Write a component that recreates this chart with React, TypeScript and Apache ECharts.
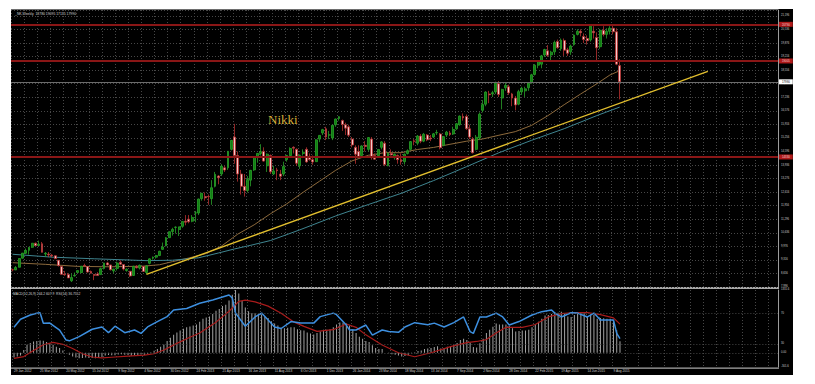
import React, { useEffect, useRef } from "react";
import * as echarts from "echarts";

// ---------- data (weekly, first bar = week of 29 Jan 2012) ----------
const SLOTS = 235;
const OPEN = [
  8841, 8830, 8960, 9400, 9640, 9780, 9930, 10130, 10020, 10100,
  9600, 9600, 9550, 9520, 9300, 9000, 8620, 8600, 8300, 8540,
  8700, 8700, 9040, 8990, 8750, 8600, 8630, 8600, 8900, 9170,
  9070, 8780, 8900, 9200, 9090, 8800, 8760, 8560, 9000, 8920,
  9000, 8700, 9150, 9400, 9450, 9530, 9830, 10000, 10400, 10700,
  10900, 10800, 10950, 11200, 11300, 11200, 11600, 11600, 12300, 12400,
  12400, 12300, 12900, 13400, 13500, 13800, 13800, 14700, 15300, 14400,
  13500, 12900, 12700, 13200, 13700, 14300, 14500, 14600, 13900, 14400,
  13500, 13700, 13500, 13500, 14200, 14400, 14800, 14700, 13900, 14500,
  14700, 14300, 14200, 14100, 15200, 15500, 15700, 15400, 15250, 15900,
  16200, 16100, 15900, 15800, 15200, 14800, 14600, 14400, 14900, 14700,
  15200, 14400, 14400, 14800, 15000, 13900, 14500, 14300, 14400, 14200,
  14100, 14500, 14700, 15100, 15000, 15350, 15100, 15400, 15250, 15300,
  15500, 15450, 14900, 15400, 15500, 15450, 15700, 15900, 16300, 16300,
  15700, 15200, 14700, 15250, 16600, 16900, 17400, 17400, 17500, 17900,
  17200, 17700, 17750, 17400, 17200, 16900, 17500, 17550, 17700, 17950,
  18350, 18800, 18850, 19300, 19500, 19300, 19450, 19950, 19600, 20000,
  19550, 19450, 19800, 20300, 20450, 20200, 20100, 20030, 20450, 20150,
  19700, 20500, 20300, 20450, 20600, 20430, 18780,
];
const HIGH = [
  8880, 9020, 9400, 9650, 9870, 9940, 10140, 10160, 10255, 10190,
  9700, 9700, 9600, 9530, 9300, 9000, 8780, 8680, 8650, 8700,
  8800, 9010, 9130, 9000, 8800, 8620, 8720, 8940, 9180, 9222,
  9080, 8880, 9230, 9290, 9100, 8900, 8780, 9030, 9060, 9090,
  9020, 9060, 9390, 9480, 9560, 9760, 10160, 10430, 10700, 10880,
  10950, 10930, 11200, 11500, 11500, 11500, 11700, 12300, 12580, 12600,
  12500, 13200, 13600, 13450, 13980, 13900, 14620, 15160, 15942, 14600,
  13700, 13500, 13400, 13700, 14340, 14520, 14950, 14800, 14500, 14450,
  13900, 13800, 13700, 14100, 14430, 14800, 14850, 14750, 14450, 14700,
  14800, 14500, 14400, 15200, 15400, 15700, 15800, 15600, 15900, 16200,
  16320, 16150, 16000, 15900, 15300, 14900, 14900, 14900, 15100, 15300,
  15300, 14500, 14700, 15100, 15100, 14550, 14700, 14500, 14450, 14500,
  14500, 14700, 15100, 15200, 15400, 15450, 15500, 15450, 15400, 15500,
  15650, 15500, 15350, 15600, 15600, 15800, 15980, 16350, 16450, 16400,
  15900, 15300, 15400, 16500, 17100, 17530, 17550, 17550, 18000, 18030,
  17650, 17950, 17850, 17450, 17300, 17600, 17750, 17750, 17980, 18380,
  18850, 19050, 19300, 19600, 19780, 19500, 20000, 20050, 20100, 20100,
  19650, 19800, 20300, 20550, 20550, 20350, 20250, 20780, 20700, 20400,
  20550, 20700, 20600, 20700, 20750, 20600, 19095,
];
const LOW = [
  8760, 8820, 8950, 9380, 9600, 9580, 9900, 9990, 10000, 9680,
  9460, 9450, 9440, 9350, 8990, 8600, 8540, 8430, 8238, 8500,
  8690, 8660, 9000, 8700, 8650, 8330, 8550, 8590, 8850, 9050,
  8800, 8660, 8800, 9060, 8800, 8740, 8490, 8540, 8900, 8850,
  8750, 8619, 9100, 9330, 9380, 9500, 9800, 9980, 10390, 10500,
  10600, 10480, 10880, 11000, 11100, 11150, 11150, 11500, 12200, 12200,
  12000, 12000, 12850, 13000, 13400, 13600, 13700, 14650, 14000, 13130,
  12500, 12400, 12600, 12900, 13650, 14050, 14400, 14100, 13600, 13500,
  13450, 13200, 13200, 13400, 14100, 14300, 14500, 13900, 13750, 14400,
  14050, 14150, 13950, 14100, 15050, 15400, 15150, 15200, 15150, 15800,
  16100, 15600, 15400, 15300, 14800, 13995, 14300, 14300, 14600, 14600,
  14200, 14200, 14300, 14700, 13880, 13880, 14400, 14200, 14000, 13950,
  13960, 14450, 14650, 14900, 14900, 15000, 15050, 15100, 15100, 15250,
  15400, 14700, 14850, 15300, 15350, 15400, 15650, 15850, 16100, 15650,
  15200, 14500, 14650, 15150, 16500, 16800, 16950, 17250, 17400, 17250,
  16650, 17550, 17350, 16800, 16600, 16850, 17350, 17250, 17550, 17900,
  18300, 18650, 18650, 19200, 19200, 19000, 19300, 19600, 19500, 19250,
  19250, 19300, 19750, 20250, 20200, 19880, 19800, 19950, 20100, 18970,
  19600, 20200, 20100, 20300, 20300, 18800, 17135,
];
const CLOSE = [
  8831, 8947, 9384, 9647, 9777, 9929, 10129, 10011, 10083, 9688,
  9637, 9561, 9520, 9380, 9046, 8611, 8593, 8440, 8459, 8569,
  8798, 9006, 9020, 8724, 8669, 8566, 8555, 8891, 9162, 9070,
  8839, 8871, 9159, 9110, 8870, 8863, 8534, 9002, 8933, 9051,
  8757, 9024, 9366, 9446, 9527, 9737, 9940, 10395, 10688, 10801,
  10913, 10926, 11191, 11153, 11173, 11386, 11606, 12283, 12560, 12338,
  12397, 12833, 13485, 13316, 13884, 13694, 14607, 15138, 14400, 13500,
  12900, 12700, 13230, 13677, 14309, 14506, 14589, 14129, 14466, 13605,
  13650, 13660, 13389, 13860, 14404, 14742, 14760, 14024, 14404, 14561,
  14088, 14201, 14086, 15165, 15381, 15661, 15299, 15403, 15870, 16178,
  16291, 15912, 15734, 15391, 14914, 14462, 14313, 14865, 14841, 15274,
  14327, 14224, 14696, 15063, 13960, 14516, 14429, 14457, 14199, 14097,
  14462, 14632, 15077, 15097, 15349, 15095, 15437, 15164, 15215, 15457,
  15523, 14778, 15318, 15539, 15424, 15668, 15948, 16321, 16229, 15708,
  15300, 14532, 15291, 16413, 16880, 17490, 17357, 17460, 17920, 17371,
  17621, 17818, 17451, 17197, 16864, 17511, 17674, 17648, 17913, 18332,
  18798, 18971, 19254, 19560, 19285, 19435, 19908, 19653, 20020, 19532,
  19379, 19732, 20264, 20450, 20380, 20050, 19990, 20700, 20380, 19650,
  20500, 20300, 20450, 20600, 20430, 18850, 17990,
];
// moving averages: [bar index, value]
const MA50 = [
  [0, 9180], [10, 9100], [20, 9000], [30, 8980], [40, 9010], [45, 9080], [49, 9232],
  [54, 9408], [59, 9614], [64, 9990], [69, 10573], [74, 11024], [79, 11565], [84, 12047],
  [89, 12610], [94, 13146], [99, 13683], [104, 14140], [109, 14412], [114, 14539],
  [119, 14537], [124, 14693], [129, 14795], [134, 14947], [139, 15095], [144, 15205],
  [149, 15388], [154, 15563], [159, 15869], [164, 16341], [169, 16878], [174, 17394],
  [179, 17895], [183, 18322], [186, 18532],
];
const MA100 = [
  [0, 9590], [12, 9450], [25, 9370], [41, 9280], [49, 9300], [57, 9420], [63, 9650],
  [68, 9850], [73, 10030], [79, 10260], [88, 10780], [99, 11457], [109, 12013],
  [119, 12555], [129, 13180], [139, 13852], [149, 14536], [159, 15141], [169, 15707],
  [179, 16345], [186, 16761],
];
const TREND = [[41, 8610], [213, 18500]];
const RED_LEVELS = [20790, 19005, 14330];
const BID = 17990;
// MACD(12,26,9) histogram, one value per week
const MACD = [
  -100, -80, -60, 60, 170, 210, 240, 250, 260, 255,
  230, 200, 170, 130, 100, 50, 0, -40, -80, -100,
  -115, -110, -100, -110, -110, -115, -110, -90, -60, -45,
  -50, -50, -35, -30, -40, -45, -65, -50, -45, -35,
  -45, -30, 10, 45, 80, 130, 175, 250, 320, 380,
  430, 470, 510, 540, 560, 580, 600, 660, 720, 750,
  770, 820, 890, 930, 990, 1020, 1110, 1230, 1331.6, 1260,
  1100, 960, 880, 840, 840, 830, 810, 770, 740, 670,
  620, 580, 530, 520, 530, 540, 540, 500, 480, 470,
  430, 410, 390, 420, 450, 490, 490, 500, 540, 600,
  640, 640, 620, 580, 500, 420, 340, 300, 250, 230,
  160, 100, 80, 80, 0, -10, -30, -40, -60, -80,
  -70, -50, -10, 10, 40, 50, 80, 90, 100, 120,
  140, 90, 100, 130, 140, 170, 210, 270, 300, 270,
  220, 120, 110, 200, 300, 420, 490, 550, 620, 600,
  600, 600, 570, 520, 450, 460, 470, 470, 490, 540,
  610, 660, 720, 790, 800, 820, 860, 850, 870, 820,
  770, 760, 800, 840, 850, 840, 780, 810, 800, 720,
  740, 730, 720, 720, 690, 480, 244.2,
];
const SIGNAL = [
  [0, -120], [3, -80], [6, 50], [9, 170], [12, 220], [15, 180], [18, 90], [21, -20],
  [24, -90], [27, -110], [30, -95], [35, -70], [40, -50], [43, -20], [46, 60],
  [50, 200], [54, 330], [57, 420], [62, 650], [66, 880], [69, 1090], [71, 1117],
  [74, 1080], [78, 990], [82, 840], [86, 650], [89, 560], [93, 455], [98, 490],
  [102, 610], [105, 540], [108, 380], [113, 165], [118, 0], [123, -85], [128, 0],
  [134, 130], [139, 215], [142, 240], [145, 280], [148, 420], [151, 540], [156, 540],
  [160, 600], [164, 760], [168, 830], [172, 850], [176, 850], [180, 810], [184, 740],
  [186, 607.9],
];
const RSI = [
  [0, 51.5], [2, 62], [5, 67.5], [7, 69.7], [8, 70.5], [9, 56.7], [11, 57], [14, 48],
  [16, 35], [17, 34], [20, 39.4], [24, 49], [27, 52], [29, 44.6], [31, 53], [34, 44.6],
  [37, 48], [39, 43.7], [41, 52], [44, 58.9], [47, 65.4], [49, 74], [53, 76], [57, 82.7],
  [61, 87], [66, 93.5], [67, 89.6], [68, 70], [71, 53], [74, 65], [76, 70], [78, 61],
  [80, 52], [82, 50], [85, 59], [88, 57], [92, 57], [94, 65.4], [98, 70], [99, 68],
  [102, 54.5], [103, 48], [105, 48], [108, 54.5], [110, 41.5], [113, 48], [115, 46],
  [118, 45], [120, 52], [123, 57.6], [127, 55], [129, 57], [132, 52], [135, 57.6],
  [138, 65], [140, 45.9], [141, 43.7], [143, 65], [145, 65], [148, 70], [150, 65],
  [152, 54.5], [155, 59], [159, 67.5], [162, 71.9], [165, 74], [166, 70], [168, 65],
  [171, 70.5], [173, 70], [176, 65], [178, 70], [180, 61], [182, 61], [184, 61],
  [185, 43.7], [186, 36.76],
];
const TITLE = "_NK,Weekly  18780 19095 17135 17990";
const SUBTITLE = "MACD(12,26,9) 244.2 607.9  RSI(14) 36.7552";
const MONTHS = ["Jan", "Feb", "Mar", "Apr", "May", "Jun", "Jul", "Aug", "Sep", "Oct", "Nov", "Dec"];

const LAST = CLOSE.length - 1;
const CATS: string[] = [];
for (let i = 0; i < SLOTS; i++) {
  const d = new Date(Date.UTC(2012, 0, 29) + i * 7 * 86400000);
  CATS.push(`${d.getUTCDate()} ${MONTHS[d.getUTCMonth()]} ${d.getUTCFullYear()}`);
}

const GRIDC = "#474747";
const TXT = "#cfcfcf";
const FONT = "Liberation Sans, Arial, sans-serif";

function buildOption(): any {
  const candles = OPEN.map((o, i) => [o, CLOSE[i], LOW[i], HIGH[i]]);
  const redLine = (v: number) => ({
    yAxis: v,
    lineStyle: { color: "#8a1616", width: 2, type: "solid" },
    label: {
      show: true, position: "end", formatter: String(v), color: "#f0d0d0",
      backgroundColor: "#b01a1a", fontSize: 2.8, padding: [1, 3], distance: 1, fontFamily: FONT,
    },
  });
  const xCommon = {
    type: "category", data: CATS, boundaryGap: true,
    axisLine: { show: false }, axisTick: { show: false },
    splitLine: { show: true, interval: 3, lineStyle: { color: GRIDC, type: [1, 2], width: 1 } },
  };
  return {
    animation: false,
    backgroundColor: "#000000",
    grid: [
      { left: 0, top: 1, width: 767, height: 277 },
      { left: 0, top: 281, width: 767, height: 77 },
    ],
    xAxis: [
      { ...xCommon, gridIndex: 0, axisLabel: { show: false } },
      {
        ...xCommon, gridIndex: 1,
        axisLabel: {
          show: true, interval: 7, align: "left", margin: 2, color: TXT, fontSize: 3.2, fontFamily: FONT,
          formatter: (v: string, i: number) => (i <= LAST ? v : ""),
        },
      },
    ],
    yAxis: [
      {
        gridIndex: 0, type: "value", position: "right", min: 7996, max: 21488, interval: 660,
        axisLine: { show: true, lineStyle: { color: "#9c9c9c", width: 1 } },
        axisTick: { show: false },
        axisLabel: { color: TXT, fontSize: 2.7, margin: 3, showMaxLabel: false, fontFamily: FONT },
        splitLine: { show: true, lineStyle: { color: GRIDC, type: [1, 2], width: 1 } },
      },
      {
        gridIndex: 1, type: "value", position: "right", min: -301.6, max: 1331.6, interval: 1633.2,
        axisLine: { show: true, lineStyle: { color: "#9c9c9c", width: 1 } },
        axisTick: { show: false },
        axisLabel: { color: TXT, fontSize: 2.7, margin: 3, fontFamily: FONT, formatter: (v: number) => v.toFixed(1) },
        splitLine: { show: false },
      },
      { gridIndex: 1, type: "value", min: 0, max: 100, show: false },
    ],
    series: [
      {
        type: "candlestick", xAxisIndex: 0, yAxisIndex: 0, data: candles, barWidth: 2.4,
        itemStyle: { color: "#0f7f12", color0: "#f6caca", borderColor: "#2a9f2a", borderColor0: "#b83030", borderWidth: 0.8 },
        markLine: {
          symbol: ["none", "none"], silent: true, animation: false,
          data: [
            ...RED_LEVELS.map(redLine),
            {
              yAxis: BID, lineStyle: { color: "#6c6c6c", width: 1, type: "solid" },
              label: {
                show: true, position: "end", formatter: String(BID), color: "#000",
                backgroundColor: "#ffffff", fontSize: 2.8, padding: [1, 3], distance: 1, fontFamily: FONT,
              },
            },
            [
              { coord: TREND[0], lineStyle: { color: "#e2bf2e", width: 1.4, type: "solid" }, label: { show: false } },
              { coord: TREND[1] },
            ],
          ],
        },
        z: 3,
      },
      {
        type: "line", xAxisIndex: 0, yAxisIndex: 0, data: MA50, symbol: "none",
        lineStyle: { color: "#8d6a3c", width: 1 }, z: 2,
      },
      {
        type: "line", xAxisIndex: 0, yAxisIndex: 0, data: MA100, symbol: "none",
        lineStyle: { color: "#3f8590", width: 1 }, z: 2,
      },
      {
        type: "bar", xAxisIndex: 1, yAxisIndex: 1, data: MACD, barWidth: 1,
        itemStyle: { color: "#a4a4a4" },
        markLine: {
          symbol: ["none", "none"], silent: true, animation: false,
          data: [{
            yAxis: 0, lineStyle: { color: GRIDC, type: [1, 2], width: 1 },
            label: { show: true, position: "end", formatter: "0.00", color: TXT, fontSize: 2.7, distance: 3, fontFamily: FONT },
          }],
        },
      },
      {
        type: "line", xAxisIndex: 1, yAxisIndex: 1, data: SIGNAL, symbol: "none",
        lineStyle: { color: "#a81b1b", width: 1.2 }, z: 3,
      },
      {
        type: "line", xAxisIndex: 1, yAxisIndex: 2, data: RSI, symbol: "none",
        lineStyle: { color: "#3d8fdf", width: 1.5 }, z: 4,
        markLine: {
          symbol: ["none", "none"], silent: true, animation: false,
          data: [70, 30].map((v) => ({
            yAxis: v, lineStyle: { color: GRIDC, type: [1, 2], width: 1 },
            label: { show: true, position: "end", formatter: String(v), color: TXT, fontSize: 2.7, distance: 3, fontFamily: FONT },
          })),
        },
      },
    ],
    graphic: [
      { type: "rect", shape: { x: 0, y: 0, width: 767, height: 1 }, style: { fill: "#6e6e6e" }, silent: true },
      { type: "rect", shape: { x: 0, y: 278, width: 768, height: 2 }, style: { fill: "#a8a8a8" }, silent: true },
      { type: "rect", shape: { x: 0, y: 358.5, width: 768, height: 1.2 }, style: { fill: "#a8a8a8" }, silent: true },
      {
        type: "text", x: 4, y: 3, silent: true,
        style: { text: TITLE, fill: "#d6d6d6", fontSize: 3.4, fontFamily: FONT },
      },
      {
        type: "text", x: 2, y: 283, silent: true,
        style: { text: SUBTITLE, fill: "#d6d6d6", fontSize: 3.3, fontFamily: FONT },
      },
      {
        type: "text", x: 257, y: 104, silent: true,
        style: { text: "Nikki", fill: "#d8b03a", fontSize: 13, fontFamily: "Liberation Serif, Times New Roman, serif" },
      },
    ],
  };
}

export default function App() {
  const ref = useRef<HTMLDivElement>(null);
  useEffect(() => {
    if (!ref.current) return;
    const chart = echarts.init(ref.current, undefined, { renderer: "svg" });
    chart.setOption(buildOption());
    return () => chart.dispose();
  }, []);
  return (
    <div style={{ position: "fixed", left: 0, top: 0, width: 815, height: 384, background: "#ffffff" }}>
      <div ref={ref} style={{ position: "absolute", left: 11, top: 9, width: 782, height: 366 }} />
    </div>
  );
}
